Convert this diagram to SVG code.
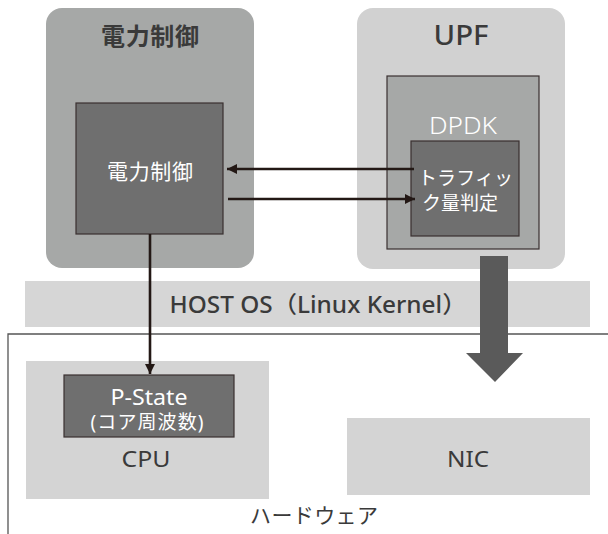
<svg xmlns="http://www.w3.org/2000/svg" width="608" height="534" viewBox="0 0 608 534">
<defs>
<style>
text{font-family:"Noto Sans","Noto Sans CJK JP",sans-serif;}
.wt{fill:#ffffff;text-anchor:middle;}
.gt{fill:#3a3a3a;text-anchor:middle;}
.med{font-weight:500;}
.dark{fill:#6f6f6f;stroke:#3a3030;stroke-width:1.2;}
.light{fill:#d4d4d4;}
.conn{stroke:#231815;stroke-width:2.6;fill:none;}
</style>
<marker id="ah" viewBox="0 0 10 10" refX="10" refY="5" markerWidth="10" markerHeight="10" markerUnits="userSpaceOnUse" orient="auto">
<path d="M0,0 L10,5 L0,10 Z" fill="#231815"/>
</marker>
</defs>
<rect width="608" height="534" fill="#ffffff"/>
<g id="hostos">
<rect x="25" y="281" width="565" height="46" fill="#d6d6d6"/>
<text x="318" y="313" class="gt med" font-size="23" textLength="297" lengthAdjust="spacingAndGlyphs">HOST OS（Linux Kernel）</text>
</g>
<g id="hardware">
<path d="M608,334 H8 V534" fill="none" stroke="#555555" stroke-width="1.3"/>
<text x="314" y="523" class="gt" font-size="21" textLength="128" lengthAdjust="spacing">ハードウェア</text>
</g>
<g id="power-group">
<rect x="46" y="8" width="208" height="260" rx="16" fill="#a6a8a7"/>
<text x="150" y="45" class="gt" font-size="24" font-weight="bold" textLength="98" lengthAdjust="spacing">電力制御</text>
</g>
<g id="power-inner">
<rect x="76" y="103" width="147" height="131" class="dark"/>
<text x="150" y="179" class="wt" font-size="21" textLength="86" lengthAdjust="spacing">電力制御</text>
</g>
<g id="upf">
<rect x="357" y="8" width="208" height="261" rx="16" fill="#d1d1d1"/>
<text x="461" y="45" class="gt med" font-size="27" textLength="55" lengthAdjust="spacingAndGlyphs">UPF</text>
</g>
<g id="dpdk">
<rect x="387" y="76" width="152" height="173" fill="#a6a8a7" stroke="#3a3030" stroke-width="1.2"/>
<text x="463" y="134" class="wt" font-size="24" font-weight="300" textLength="68" lengthAdjust="spacingAndGlyphs">DPDK</text>
</g>
<g id="traffic">
<rect x="411" y="141" width="108" height="95" class="dark"/>
<text x="418" y="185" class="wt" font-size="19" style="text-anchor:start" textLength="95" lengthAdjust="spacing">トラフィッ</text>
<text x="422" y="210" class="wt" font-size="19" style="text-anchor:start" textLength="76" lengthAdjust="spacing">ク量判定</text>
</g>
<g id="cpu">
<rect x="26" y="361" width="243" height="138" class="light"/>
<text x="146" y="467" class="gt" font-size="22" textLength="49" lengthAdjust="spacingAndGlyphs">CPU</text>
</g>
<g id="pstate">
<rect x="64" y="375" width="170" height="62" class="dark"/>
<text x="149" y="405" class="wt" font-size="21" textLength="77" lengthAdjust="spacingAndGlyphs">P-State</text>
<text x="147" y="429" class="wt" font-size="19" textLength="113" lengthAdjust="spacing">(コア周波数)</text>
</g>
<g id="nic">
<rect x="347" y="418" width="243" height="77" class="light"/>
<text x="468" y="467" class="gt" font-size="22" textLength="42" lengthAdjust="spacingAndGlyphs">NIC</text>
</g>
<g id="connectors">
<line x1="414" y1="169" x2="227" y2="169" class="conn" marker-end="url(#ah)"/>
<line x1="228" y1="199" x2="415" y2="199" class="conn" marker-end="url(#ah)"/>
<line x1="150" y1="234" x2="150" y2="374" class="conn" marker-end="url(#ah)"/>
<path d="M480,256 H508 V353 H523 L495,382 L466,353 H480 Z" fill="#5a5a5a"/>
</g>
</svg>
